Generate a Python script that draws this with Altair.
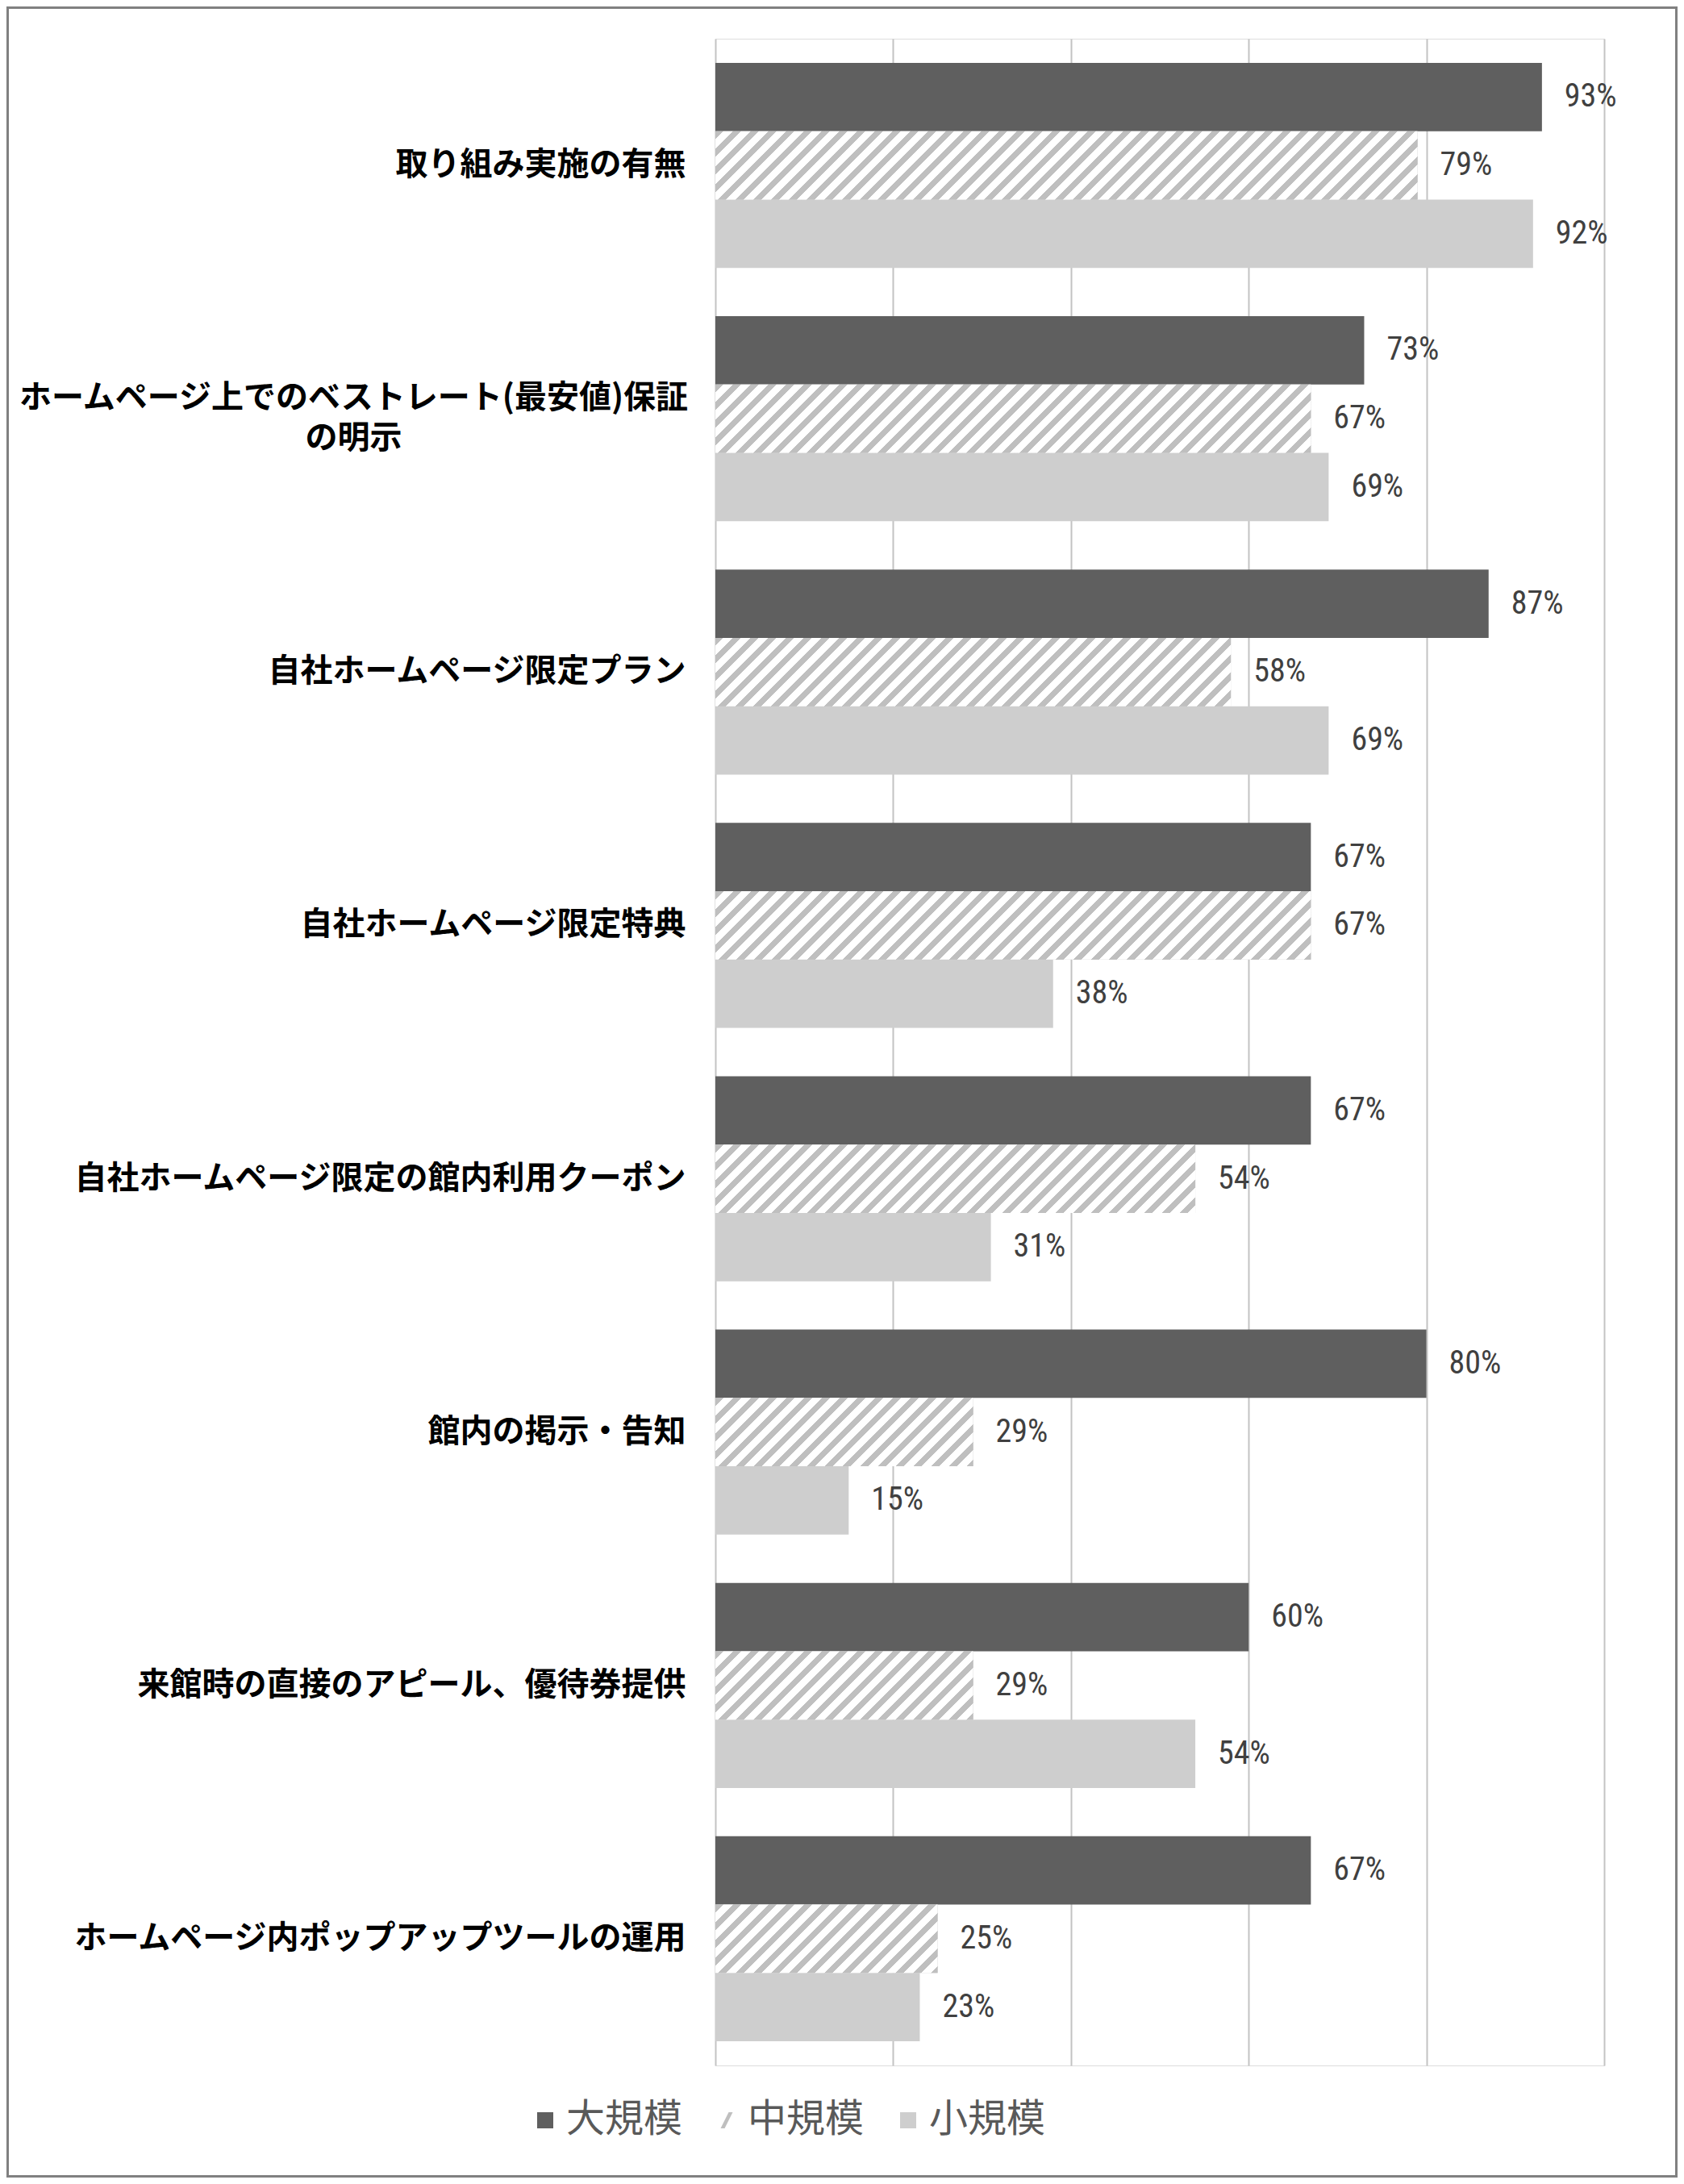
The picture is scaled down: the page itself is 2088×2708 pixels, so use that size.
import altair as alt
import pandas as pd

# ---------------- data ----------------
categories = [
    "取り組み実施の有無",
    "ホームページ上でのベストレート(最安値)保証\nの明示",
    "自社ホームページ限定プラン",
    "自社ホームページ限定特典",
    "自社ホームページ限定の館内利用クーポン",
    "館内の掲示・告知",
    "来館時の直接のアピール、優待券提供",
    "ホームページ内ポップアップツールの運用",
]
series = ["大規模", "中規模", "小規模"]
large = [93, 73, 87, 67, 67, 80, 60, 67]
medium = [79, 67, 58, 67, 54, 29, 29, 25]
small = [92, 69, 69, 38, 31, 15, 54, 23]
x_ticks = [0, 20, 40, 60, 80, 100]

rows = []
for i, c in enumerate(categories):
    for s, vals in zip(series, [large, medium, small]):
        rows.append({"idx": i, "cat": c, "series": s, "v": vals[i], "label": f"{vals[i]}%"})
df = pd.DataFrame(rows)

# ---------------- layout ----------------
PW, PH = 1102, 2513
PAD_IN, PAD_OUT = 0.191, 0.0955
step = PH / (len(categories) - PAD_IN + 2 * PAD_OUT)
BAR_H = step * (1 - PAD_IN) / 3

DARK = "#5f5f5f"
HATCH = "#bfbfbf"
DOT = "#cecece"
JP = "Noto Sans CJK JP"
NUM_FONT = "Liberation Sans Narrow, Roboto Condensed, DejaVu Sans Condensed, Noto Sans, sans-serif"
LINE_H = 50


def hatch_fill(value, period=22.0, stripe=10.0):
    W = PW * value / 100.0
    H = BAR_H
    r = H / W
    a = (1 + r) / (1 + r * r)
    L = W + H
    stops = []
    c = 0.0
    while c < L:
        for c0, c1, col in [(c, c + stripe, HATCH), (c + stripe, c + period, "#ffffff")]:
            t0 = max(0.0, c0 / L)
            t1 = min(1.0, c1 / L)
            if t1 > t0:
                stops.append({"offset": round(t0, 5), "color": col})
                stops.append({"offset": round(t1, 5), "color": col})
        c += period
    return {"gradient": "linear", "x1": 0, "y1": 0, "x2": a, "y2": a * r, "stops": stops}


multi = "indexof(datum.value, '\\n') >= 0"

x_enc = alt.X(
    "v:Q",
    scale=alt.Scale(domain=[0, 100], nice=False, zero=True),
    axis=alt.Axis(values=x_ticks, labels=False, ticks=False, domain=False,
                  grid=True, gridColor="#c3c3c3", gridWidth=2, title=None),
)
y_enc = alt.Y(
    "cat:N",
    sort=categories,
    scale=alt.Scale(domain=categories, paddingInner=PAD_IN, paddingOuter=PAD_OUT),
    axis=alt.Axis(
        title=None, domain=False, ticks=False, grid=False,
        labelFont=JP, labelFontSize=40, labelFontWeight="bold", labelColor="#000000",
        labelLimit=2000, labelLineHeight=LINE_H,
        labelExpr="split(datum.label, '\\n')",
        labelAlign={"condition": {"test": multi, "value": "center"}, "value": "right"},
        labelPadding={"condition": {"test": multi, "value": 449}, "value": 37},
        labelOffset={"condition": {"test": multi, "value": -LINE_H / 2}, "value": 0},
    ),
)
yoff = alt.YOffset("series:N", scale=alt.Scale(domain=series, paddingInner=0, paddingOuter=0))
fill_scale = alt.Scale(domain=series, range=[DARK, HATCH, DOT])

legend = alt.Legend(
    title=None, orient="none", legendX=-235, legendY=2557, direction="horizontal",
    symbolSize=400, symbolOpacity=1, symbolStrokeWidth=0,
    labelFont=JP, labelFontSize=48, labelColor="#595959", labelOffset=2,
    columnPadding=30, padding=0, labelLimit=500,
)

slash = "M0.25,-1L0.75,-1L-0.25,1L-0.75,1Z"

pts = alt.Chart(df).mark_point(filled=True, opacity=0, size=10).encode(
    x=x_enc, y=y_enc, yOffset=yoff,
    fill=alt.Fill("series:N", scale=fill_scale, legend=legend),
    shape=alt.Shape("series:N", scale=alt.Scale(domain=series, range=["square", slash, "square"]), legend=legend),
)

bars = alt.Chart(df).mark_bar().encode(
    x=x_enc, y=y_enc, yOffset=yoff,
    fill=alt.Fill("series:N", scale=fill_scale, legend=None),
)

hatch_layers = []
for i, v in enumerate(medium):
    hatch_layers.append(
        alt.Chart(df)
        .transform_filter((alt.datum.idx == i) & (alt.datum.series == "中規模"))
        .mark_bar(fill=hatch_fill(v))
        .encode(x=x_enc, y=y_enc, yOffset=yoff)
    )

texts = alt.Chart(df).mark_text(
    align="left", baseline="middle", dx=28, font=NUM_FONT, fontSize=40, color="#404040"
).encode(x=x_enc, y=y_enc, yOffset=yoff, text="label:N")

frame = alt.Chart(pd.DataFrame({"f": [0]})).mark_rect(
    fillOpacity=0, stroke="#808080", strokeWidth=3
).encode(
    x=alt.value(-877.5), x2=alt.value(PW + 89.5),
    y=alt.value(-38.5), y2=alt.value(PH + 137.5),
)

chart = alt.layer(pts, bars, *hatch_layers, texts, frame).properties(
    width=PW, height=PH, autosize="none",
    padding={"left": 879, "top": 40, "right": 91, "bottom": 139},
    background="#ffffff",
).configure_view(stroke="#bfbfbf", strokeWidth=2.5).configure(font=JP)

chart.save("out.html", embed_options={"renderer": "svg", "actions": False})
